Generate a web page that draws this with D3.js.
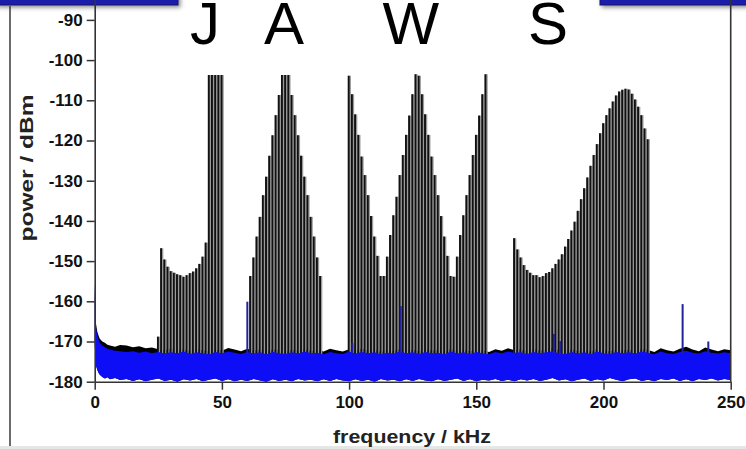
<!DOCTYPE html>
<html>
<head>
<meta charset="utf-8">
<script src="https://cdn.jsdelivr.net/npm/d3@7"></script>
<style>
  body { margin: 0; background: #fff; }
  svg { display: block; }
  text { font-family: "Liberation Sans", Arial, sans-serif; }
</style>
</head>
<body>
<script>
// comb lines sit on a 1.25 kHz grid
let combStep = 1.25;

let jStart = 25;
let jPeaks = [-168.8, -146.8, -149.6, -151.4, -152.5, -152.9, -153.3, -153.5, -153.9, -153.5, -153.0,
  -152.6, -151.8, -150.7, -148.9, -145.4, -103.7, -103.7, -103.7, -103.7, -103.7];

let aStart = 61.25;
let aPeaks = [-153.7, -149.1, -143.9, -139.0, -133.6, -129.0, -123.8, -118.7, -113.7, -108.7,
  -103.7, -103.7, -103.7, -108.7, -113.7, -118.7, -123.8, -129.0, -133.6, -139.0, -143.9, -149.1, -153.7];

let wStart = 100;
let wPeaks = [-103.9, -108.5, -113.5, -118.6, -124.0, -128.6, -133.6, -138.8, -143.9, -148.7, -153.7,
  -153.7, -148.9, -143.5, -138.6, -134.0, -128.6, -123.6, -118.6, -113.8, -108.5, -103.5,
  -103.9, -108.5, -113.5, -118.6, -124.0, -128.6, -133.6, -138.8, -143.9, -148.7, -153.7,
  -153.9, -148.9, -143.5, -138.6, -133.6, -128.6, -123.6, -118.6, -113.8, -108.5, -103.5];

let sStart = 165;
let sPeaks = [-144.3, -147.1, -149.1, -151.0, -152.2, -152.9, -153.5, -153.5, -154.0, -153.7, -153.0,
  -152.7, -151.8, -150.7, -149.6, -148.3, -146.4, -144.5, -142.4, -140.2, -137.5, -134.6,
  -131.9, -129.2, -126.3, -123.6, -120.9, -118.2, -115.7, -113.7, -112.0, -110.3, -108.8,
  -107.8, -107.4, -107.1, -107.3, -108.4, -109.8, -111.6, -113.7, -117.0, -119.7];

// isolated blue lines
let blueSpikeFreq = [60, 101.3, 120.3, 180.5, 183, 231.1, 241.2];
let blueSpikePeak = [-160.1, -170.4, -161.2, -168.1, -169.9, -160.7, -170.0];

// noise floor
let noiseFreq = [0, 0.25, 0.5, 1, 1.5, 2, 3, 4, 5, 6, 8, 10,
  12.5, 15, 17.5, 20, 22.5, 25, 27.5, 30, 32.5, 35, 37.5, 40, 42.5, 45, 47.5, 50,
  52.5, 55, 57.5, 60, 62.5, 65, 67.5, 70, 72.5, 75, 77.5, 80, 82.5, 85, 87.5, 90,
  92.5, 95, 97.5, 100, 102.5, 105, 107.5, 110, 112.5, 115, 117.5, 120, 122.5, 125, 127.5, 130,
  132.5, 135, 137.5, 140, 142.5, 145, 147.5, 150, 152.5, 155, 157.5, 160, 162.5, 165, 167.5, 170,
  172.5, 175, 177.5, 180, 182.5, 185, 187.5, 190, 192.5, 195, 197.5, 200, 202.5, 205, 207.5, 210,
  212.5, 215, 217.5, 220, 222.5, 225, 227.5, 230, 232.5, 235, 237.5, 240, 242.5, 245, 247.5, 250];
let blackTop = [-155.5, -163, -165.5, -167.5, -168.5, -169.3, -170, -170.3, -170.8, -171, -171.3, -170.9,
  -171.0, -171.4, -171.2, -171.7, -171.5, -171.9, -172.2, -171.7, -172.3, -171.9, -172.4, -171.8, -172.2, -172.5, -171.9, -172.3,
  -171.6, -172.0, -172.4, -171.8, -172.3, -172.0, -172.5, -171.9, -172.2, -172.6, -172.0, -172.3, -171.8, -172.4, -172.1, -172.5,
  -171.8, -172.2, -172.5, -171.9, -172.4, -171.7, -172.3, -172.0, -172.6, -172.1, -172.4, -171.8, -172.3, -172.0, -172.5, -171.9,
  -172.3, -172.1, -172.6, -171.8, -172.4, -172.0, -172.5, -171.9, -172.2, -172.6, -171.9, -172.3, -171.7, -172.2, -172.0, -172.5,
  -171.8, -172.3, -172.0, -171.6, -172.2, -172.5, -171.9, -172.4, -172.0, -172.6, -171.8, -172.2, -172.5, -171.9, -172.3, -172.0,
  -172.4, -171.8, -172.1, -172.6, -171.7, -172.2, -172.5, -171.8, -171.3, -172.0, -172.4, -171.5, -172.0, -172.4, -171.9, -172.2];
let blueTop = [-155.5, -163.5, -166.5, -168.5, -169.5, -170.3, -171, -171.4, -171.8, -172, -172.3, -172.4,
  -172.6, -172.4, -172.8, -172.5, -172.9, -172.6, -173.0, -172.7, -172.9, -172.5, -173.1, -172.7, -172.9, -173.2, -172.6, -172.9,
  -172.5, -172.8, -173.1, -172.6, -173.0, -172.7, -173.2, -172.6, -172.9, -173.1, -172.7, -173.0, -172.5, -172.9, -172.8, -173.2,
  -172.6, -172.9, -173.1, -172.5, -173.0, -172.6, -172.9, -172.7, -173.2, -172.8, -173.0, -172.5, -172.9, -172.7, -173.1, -172.6,
  -172.9, -172.8, -173.2, -172.5, -173.0, -172.7, -173.1, -172.6, -172.9, -173.2, -172.6, -172.9, -172.5, -172.8, -172.7, -173.1,
  -172.6, -172.9, -172.7, -172.4, -172.9, -173.1, -172.6, -173.0, -172.7, -173.2, -172.5, -172.9, -173.1, -172.6, -172.9, -172.7,
  -173.0, -172.5, -172.8, -173.2, -172.5, -172.9, -173.1, -172.6, -172.3, -172.8, -173.0, -172.4, -172.8, -173.0, -172.7, -172.9];
let blueBottom = [-170, -174.5, -176, -177, -177.8, -178.3, -178.8, -179.2, -178.9, -179.4, -179.1, -179.6,
  -179.3, -179.8, -179.4, -179.9, -179.5, -179.2, -179.8, -179.5, -180.0, -179.4, -179.7, -179.3, -179.9, -179.5, -179.2, -179.8,
  -179.4, -179.9, -179.5, -179.8, -179.3, -179.7, -180.0, -179.4, -179.8, -179.5, -179.9, -179.3, -179.7, -179.5, -179.9, -179.4,
  -179.8, -179.3, -179.7, -179.9, -179.4, -179.8, -179.5, -180.0, -179.3, -179.7, -179.5, -179.9, -179.4, -179.8, -179.3, -179.7,
  -179.9, -179.4, -179.8, -179.5, -179.2, -179.8, -179.4, -179.9, -179.5, -179.7, -179.3, -179.8, -179.5, -179.9, -179.4, -179.7,
  -179.3, -179.8, -179.5, -179.1, -179.7, -179.4, -179.9, -179.5, -179.2, -179.8, -179.4, -179.7, -179.1, -179.5, -179.9, -179.4,
  -179.2, -179.8, -179.5, -179.9, -179.3, -179.6, -179.2, -179.8, -179.4, -179.9, -179.3, -179.6, -179.2, -179.7, -179.3, -179.6];

let xTicks = [0, 50, 100, 150, 200, 250];
let yTicks = [-180, -170, -160, -150, -140, -130, -120, -110, -100, -90];
let letters = ["J", "A", "W", "S"];
let letterKHz = [43.4, 74.4, 124.3, 178.2];

let width = 746,
    height = 449;

let svg = d3.select("body").append("svg")
    .attr("width", width).attr("height", height);

let x = d3.scaleLinear().domain([0, 250]).range([94.7, 730.7]);
let y = d3.scaleLinear().domain([-180, -80]).range([381.7, -20.3]);

// slide decorations
let defs = svg.append("defs");
let sh = defs.append("filter").attr("id", "shadow").attr("x", "-10%").attr("y", "-100%").attr("width", "130%").attr("height", "400%");
sh.append("feDropShadow").attr("dx", 2).attr("dy", 2).attr("stdDeviation", 2).attr("flood-color", "#000").attr("flood-opacity", 0.45);

svg.append("rect").attr("x", -4).attr("y", -6).attr("width", 182).attr("height", 11)
    .attr("fill", "#1e1eaa").attr("stroke", "#101070").attr("filter", "url(#shadow)");
svg.append("rect").attr("x", 600).attr("y", -6).attr("width", 150).attr("height", 11)
    .attr("fill", "#1e1eaa").attr("stroke", "#101070").attr("filter", "url(#shadow)");
svg.append("line").attr("x1", 10).attr("x2", 10).attr("y1", 6).attr("y2", 446)
    .attr("stroke", "#3a3a3a").attr("stroke-width", 1.5);
svg.append("rect").attr("x", 0).attr("y", 446).attr("width", width).attr("height", 3).attr("fill", "#e6e6e6");

// comb lines
let combs = [[jStart, jPeaks], [aStart, aPeaks], [wStart, wPeaks], [sStart, sPeaks]];
let spikes = [];
combs.forEach(([f0, peaks]) => peaks.forEach((p, i) => spikes.push({ f: f0 + i * combStep, p: p })));

let plot = svg.append("g");

// black noise trace under the blue
let noise = noiseFreq.map((f, i) => ({ f: f, bt: blackTop[i], ut: blueTop[i], ub: blueBottom[i] }));
plot.append("path").datum(noise)
    .attr("fill", "#000")
    .attr("d", d3.area().x(d => x(d.f)).y0(d => y(d.ub)).y1(d => y(d.bt)));

// grey shoulder + black line for every comb tooth
plot.selectAll("line.shade").data(spikes).enter().append("line")
    .attr("class", "shade")
    .attr("x1", d => x(d.f) + 0.3).attr("x2", d => x(d.f) + 0.3)
    .attr("y1", y(-174)).attr("y2", d => y(d.p))
    .attr("stroke", "#9a9a9a").attr("stroke-width", 3.1);
plot.selectAll("line.spike").data(spikes).enter().append("line")
    .attr("class", "spike")
    .attr("x1", d => x(d.f) - 0.4).attr("x2", d => x(d.f) - 0.4)
    .attr("y1", y(-174)).attr("y2", d => y(d.p))
    .attr("stroke", "#111").attr("stroke-width", 1.9);

plot.append("path").datum(noise)
    .attr("fill", "#0d0df6")
    .attr("d", d3.area().x(d => x(d.f)).y0(d => y(d.ub)).y1(d => y(d.ut)));

plot.selectAll("line.blue").data(blueSpikeFreq).enter().append("line")
    .attr("class", "blue")
    .attr("x1", d => x(d)).attr("x2", d => x(d))
    .attr("y1", y(-173)).attr("y2", (d, i) => y(blueSpikePeak[i]))
    .attr("stroke", "#22229c").attr("stroke-width", 2);

// axes
let axisColor = "#333";
let yAxis = d3.axisLeft(y).tickValues(yTicks).tickSize(8).tickSizeOuter(0).tickFormat(d => String(d));
let yMinor = d3.axisLeft(y).tickValues(d3.range(-175, -80, 10)).tickSize(5).tickSizeOuter(0).tickFormat("");
let xAxis = d3.axisBottom(x).tickValues(xTicks).tickSize(8).tickSizeOuter(0).tickFormat(d => String(d));
let xMinor = d3.axisBottom(x).tickValues([25, 75, 125, 175, 225]).tickSize(5).tickSizeOuter(0).tickFormat("");

let gy = svg.append("g").attr("transform", "translate(" + x(0) + ",0)");
gy.call(yMinor);
gy.call(yAxis);
let gx = svg.append("g").attr("transform", "translate(0," + y(-180) + ")");
gx.call(xMinor);
gx.call(xAxis);

svg.append("line").attr("x1", x(250)).attr("x2", x(250)).attr("y1", -20).attr("y2", y(-180))
    .attr("stroke", axisColor).attr("stroke-width", 1.6);

svg.selectAll(".domain").attr("stroke", axisColor).attr("stroke-width", 1.6);
svg.selectAll(".tick line").attr("stroke", axisColor).attr("stroke-width", 1.5);
gy.selectAll(".tick text").attr("font-size", 17).attr("font-weight", "bold").attr("fill", "#111")
    .attr("x", -12).attr("font-family", "Liberation Sans, Arial, sans-serif");
gx.selectAll(".tick text").attr("font-size", 17).attr("font-weight", "bold").attr("fill", "#111")
    .attr("y", 14).attr("font-family", "Liberation Sans, Arial, sans-serif");

// axis titles
svg.append("text")
    .attr("x", 412).attr("y", 443)
    .attr("text-anchor", "middle").attr("font-size", 19).attr("font-weight", "bold").attr("fill", "#222")
    .attr("textLength", 158).attr("lengthAdjust", "spacingAndGlyphs")
    .text("frequency / kHz");
svg.append("text")
    .attr("transform", "translate(33,168) rotate(-90)")
    .attr("text-anchor", "middle").attr("font-size", 19).attr("font-weight", "bold").attr("fill", "#222")
    .attr("textLength", 147).attr("lengthAdjust", "spacingAndGlyphs")
    .text("power / dBm");

// big letters
svg.selectAll("text.letter").data(letters).enter().append("text")
    .attr("class", "letter")
    .attr("x", (d, i) => x(letterKHz[i])).attr("y", 44)
    .attr("text-anchor", "middle").attr("font-size", 60).attr("fill", "#000")
    .text(d => d);
</script>
</body>
</html>
